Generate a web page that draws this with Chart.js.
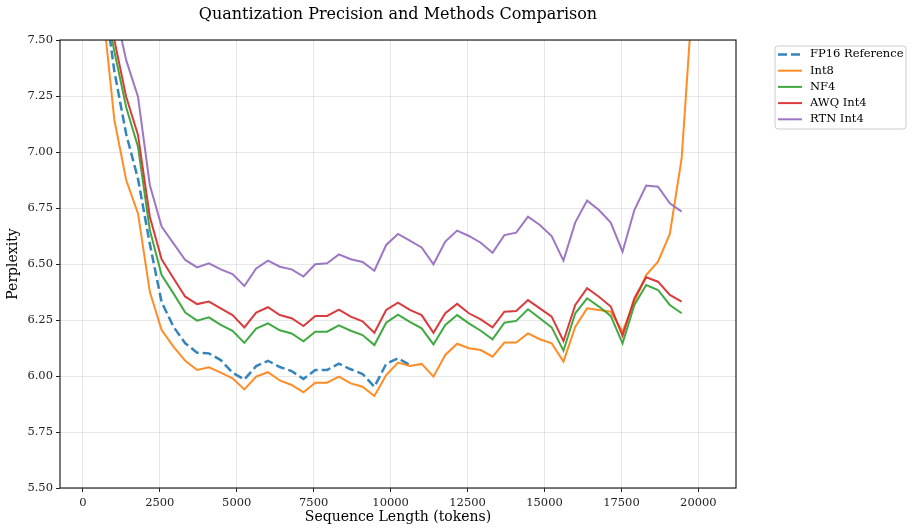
<!DOCTYPE html>
<html>
<head>
<meta charset="utf-8">
<script src="https://cdn.jsdelivr.net/npm/chart.js@4.4.0/dist/chart.umd.min.js"></script>
<style>
  html, body { margin: 0; padding: 0; background: #ffffff; }
  #wrap { width: 913px; height: 532px; }
</style>
</head>
<body>
<div id="wrap"><canvas id="quantChart" width="913" height="532"></canvas></div>
<script>
// sequence lengths (tokens)
const tokens = [256, 640, 1024, 1408, 1792, 2176, 2560, 2944, 3328, 3712, 4096, 4480, 4864, 5248,
  5632, 6016, 6400, 6784, 7168, 7552, 7936, 8320, 8704, 9088, 9472, 9856, 10240, 10624, 11008,
  11392, 11776, 12160, 12544, 12928, 13312, 13696, 14080, 14464, 14848, 15232, 15616, 16000,
  16384, 16768, 17152, 17536, 17920, 18304, 18688, 19072, 19456, 19840, 20224];

// perplexity per method (null = not measured)
const fp16 = [8.9, 7.75, 7.36, 7.08, 6.88, 6.59, 6.33, 6.22, 6.146, 6.104, 6.101, 6.071, 6.015, 5.984,
  6.044, 6.068, 6.04, 6.022, 5.987, 6.027, 6.027, 6.055, 6.03, 6.009, 5.952, 6.054, 6.079, 6.049];
const int8 = [8.7, 7.65, 7.143, 6.875, 6.726, 6.376, 6.205, 6.131, 6.068, 6.027, 6.039, 6.015, 5.99, 5.94,
  5.997, 6.017, 5.98, 5.96, 5.927, 5.97, 5.97, 5.997, 5.967, 5.952, 5.911, 6.004, 6.06, 6.045, 6.054,
  5.997, 6.094, 6.144, 6.124, 6.116, 6.086, 6.149, 6.149, 6.19, 6.164, 6.146, 6.064, 6.22, 6.302,
  6.295, 6.287, 6.198, 6.332, 6.451, 6.51, 6.634, 6.972, 7.75, 8.9];
const nf4 = [8.8, 7.7, 7.45, 7.2, 7.024, 6.652, 6.451, 6.369, 6.283, 6.247, 6.262, 6.228, 6.202, 6.148,
  6.212, 6.235, 6.204, 6.19, 6.155, 6.198, 6.198, 6.226, 6.202, 6.183, 6.138, 6.238, 6.274, 6.242, 6.213,
  6.141, 6.228, 6.272, 6.235, 6.202, 6.164, 6.238, 6.246, 6.298, 6.258, 6.217, 6.113, 6.28, 6.347,
  6.31, 6.268, 6.146, 6.317, 6.406, 6.384, 6.317, 6.28];
const awqInt4 = [9.0, 7.9, 7.5, 7.247, 7.076, 6.711, 6.521, 6.436, 6.354, 6.321, 6.332, 6.302, 6.272, 6.217,
  6.283, 6.307, 6.272, 6.258, 6.223, 6.268, 6.268, 6.296, 6.265, 6.244, 6.193, 6.295, 6.327, 6.295, 6.272,
  6.193, 6.28, 6.322, 6.28, 6.253, 6.217, 6.287, 6.29, 6.339, 6.302, 6.265, 6.156, 6.317, 6.392,
  6.354, 6.31, 6.179, 6.347, 6.441, 6.421, 6.362, 6.332];
const rtnInt4 = [9.3, 8.1, 7.65, 7.41, 7.247, 6.853, 6.667, 6.592, 6.518, 6.485, 6.503, 6.476, 6.455, 6.402,
  6.48, 6.515, 6.488, 6.476, 6.444, 6.499, 6.503, 6.543, 6.521, 6.509, 6.47, 6.585, 6.634, 6.604, 6.574,
  6.499, 6.6, 6.649, 6.625, 6.595, 6.55, 6.629, 6.64, 6.711, 6.674, 6.625, 6.515, 6.686, 6.783,
  6.741, 6.685, 6.555, 6.741, 6.85, 6.845, 6.771, 6.734];

const seriesNames = ['FP16 Reference', 'Int8', 'NF4', 'AWQ Int4', 'RTN Int4'];
const seriesValues = [fp16, int8, nf4, awqInt4, rtnInt4];
const seriesColors = ['rgba(31,119,180,0.9)', 'rgba(255,127,14,0.9)', 'rgba(44,160,44,0.9)',
  'rgba(214,39,40,0.9)', 'rgba(148,103,189,0.9)'];

const xTicks = [0, 2500, 5000, 7500, 10000, 12500, 15000, 17500, 20000];
const yTicks = [5.5, 5.75, 6.0, 6.25, 6.5, 6.75, 7.0, 7.25, 7.5];

const serif = '"DejaVu Serif", serif';

function toPoints(vals) {
  return tokens.map((t, i) => ({ x: t, y: i < vals.length ? vals[i] : null }));
}

const datasets = seriesNames.map((name, i) => ({
  label: name,
  data: toPoints(seriesValues[i]),
  borderColor: seriesColors[i],
  backgroundColor: seriesColors[i],
  borderWidth: i === 0 ? 2.5 : 2,
  borderDash: i === 0 ? [9, 4] : [],
  pointRadius: 0,
  tension: 0,
  spanGaps: false,
  clip: 0,
  order: seriesNames.length - i
}));

// frame, title and boxed legend like the matplotlib figure
const frameAndLegend = {
  id: 'frameAndLegend',
  afterDraw(chart) {
    const { ctx, chartArea: a } = chart;
    ctx.save();
    ctx.strokeStyle = '#222';
    ctx.lineWidth = 1.2;
    ctx.strokeRect(a.left, a.top, a.right - a.left, a.bottom - a.top);

    ctx.fillStyle = '#000';
    ctx.font = '16px ' + serif;
    ctx.textAlign = 'center';
    ctx.textBaseline = 'middle';
    ctx.fillText('Quantization Precision and Methods Comparison', (a.left + a.right) / 2, 15);

    const bx = 775, by = 46, bw = 131, bh = 83;
    ctx.beginPath();
    ctx.roundRect(bx, by, bw, bh, 3);
    ctx.fillStyle = 'rgba(255,255,255,0.8)';
    ctx.fill();
    ctx.strokeStyle = '#cccccc';
    ctx.lineWidth = 1;
    ctx.stroke();

    ctx.font = '11.5px ' + serif;
    ctx.textAlign = 'left';
    seriesNames.forEach((name, i) => {
      const y = 54.5 + i * 16.2;
      ctx.beginPath();
      ctx.strokeStyle = seriesColors[i];
      ctx.lineWidth = i === 0 ? 2.5 : 2;
      ctx.setLineDash(i === 0 ? [9, 4] : []);
      ctx.moveTo(778, y);
      ctx.lineTo(802, y);
      ctx.stroke();
      ctx.setLineDash([]);
      ctx.fillStyle = '#000';
      ctx.fillText(name, 810, y);
    });
    ctx.restore();
  }
};

new Chart(document.getElementById('quantChart'), {
  type: 'line',
  data: { datasets: datasets },
  options: {
    responsive: false,
    animation: false,
    devicePixelRatio: 1,
    layout: { padding: { top: 40, right: 177, bottom: 0, left: 0 } },
    plugins: {
      legend: { display: false },
      title: { display: false },
      tooltip: { enabled: false }
    },
    scales: {
      x: {
        type: 'linear',
        min: -742,
        max: 21222,
        afterFit: s => { s.height = 44; },
        afterBuildTicks: s => { s.ticks = xTicks.map(v => ({ value: v })); },
        grid: { color: 'rgba(176,176,176,0.3)', lineWidth: 1, tickColor: '#222', tickLength: 4 },
        border: { display: false },
        ticks: {
          padding: 4,
          color: '#222',
          maxRotation: 0,
          font: { family: serif, size: 11.5 },
          callback: v => String(v)
        },
        title: {
          display: true,
          text: 'Sequence Length (tokens)',
          color: '#000',
          font: { family: serif, size: 14 },
          padding: { top: 0, bottom: 6 }
        }
      },
      y: {
        min: 5.5,
        max: 7.5,
        afterFit: s => { s.width = 60; },
        afterBuildTicks: s => { s.ticks = yTicks.map(v => ({ value: v })); },
        grid: { color: 'rgba(176,176,176,0.3)', lineWidth: 1, tickColor: '#222', tickLength: 4 },
        border: { display: false },
        ticks: {
          padding: 3,
          color: '#222',
          font: { family: serif, size: 11.5 },
          callback: v => Number(v).toFixed(2)
        },
        title: {
          display: true,
          text: 'Perplexity',
          color: '#000',
          font: { family: serif, size: 14 },
          padding: { top: 5, bottom: 0 }
        }
      }
    }
  },
  plugins: [frameAndLegend]
});
</script>
</body>
</html>
